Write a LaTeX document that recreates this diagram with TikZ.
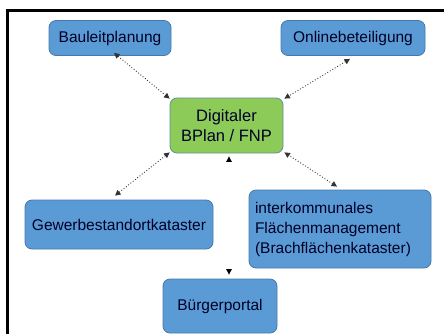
\documentclass[tikz,border=0pt]{standalone}
\usepackage{fontspec}
\setmainfont{Liberation Sans}
\usetikzlibrary{arrows.meta}

\definecolor{boxblue}{RGB}{91,155,213}
\definecolor{boxblueline}{RGB}{70,120,170}
\definecolor{boxgreen}{RGB}{141,203,88}
\definecolor{boxgreenline}{RGB}{100,140,150}

\tikzset{
  modul/.style={draw=boxblueline,fill=boxblue,rounded corners=7pt,line width=0.8pt,
    font=\fontsize{15.5}{18}\selectfont,text=black!85!blue,inner sep=0pt},
  kern/.style={modul,draw=boxgreenline,fill=boxgreen,align=center,
    font=\fontsize{16.5}{19.5}\selectfont},
  link/.style={dotted,line width=0.9pt,black!80,
    {Triangle[width=5.5pt,length=5.5pt]}-{Triangle[width=5.5pt,length=5.5pt]}}
}

\begin{document}
\begin{tikzpicture}[x=1pt,y=-1pt]
\useasboundingbox (0,0) rectangle (444,333);

% Rahmen (nur oben und links sichtbar)
\draw[line width=3pt] (7,336) -- (7,10.5) -- (447,10.5);

% Knoten
\node[kern,minimum width=113pt,minimum height=55pt] (ctr) at (226.5,125.5)
  {Digitaler\\BPlan / FNP};
\node[modul,minimum width=122pt,minimum height=35pt] (bau) at (110,38) {Bauleitplanung};
\node[modul,minimum width=144pt,minimum height=35pt] (onl) at (353,38) {Onlinebeteiligung};
\node[modul,minimum width=188pt,minimum height=49pt] (gew) at (119,224.5) {Gewerbestandortkataster};
\node[modul,minimum width=182pt,minimum height=78pt,text width=170pt,align=left,
  font=\fontsize{15.5}{20}\selectfont] (ikm) at (340,229)
  {interkommunales\\Fl\"achenmanagement\\(Brachfl\"achenkataster)};
\node[modul,minimum width=114pt,minimum height=54pt] (bgp) at (220,306) {B\"urgerportal};

% Verbindungen
\draw[link] ([yshift=3pt]bau.south) ++(4,0) -- ([shift={(0,1)}]ctr.north west);
\draw[link] ([shift={(-3,3)}]onl.south) -- ([shift={(1,1)}]ctr.north east);
\draw[link] ([shift={(-4,-4)}]gew.north) -- ([shift={(0,-1)}]ctr.south west);
\draw[link] ([shift={(-3,-3)}]ikm.north) -- ([shift={(1,-1)}]ctr.south east);
\draw[link,draw=white,{Triangle[black,width=5.5pt,length=5.5pt]}-{Triangle[black,width=5.5pt,length=5.5pt]}]
  ([shift={(2.5,3)}]ctr.south) -- ([shift={(9,-4)}]bgp.north);
\end{tikzpicture}
\end{document}
